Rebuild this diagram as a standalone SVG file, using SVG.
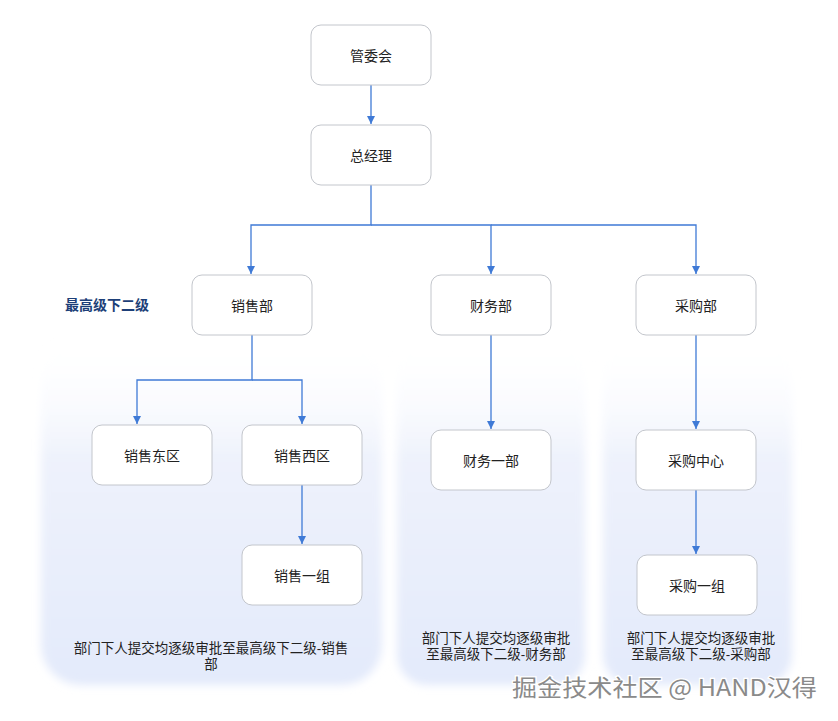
<svg xmlns="http://www.w3.org/2000/svg" width="838" height="721" viewBox="0 0 838 721">
<defs>
<style>
.box{fill:#fff;stroke:#c3c6cc;stroke-width:1}
.t{font-family:"Noto Sans CJK SC","Noto Sans",sans-serif;font-size:14px;fill:#222;text-anchor:middle;dominant-baseline:central}
.note{font-family:"Liberation Sans","Noto Sans CJK SC",sans-serif;font-size:13.5px;fill:#222;text-anchor:middle}
.c{fill:none;stroke:#3f7ad6;stroke-width:1.3}
.panel{fill:url(#pg)}
</style>
<linearGradient id="pg" x1="0" y1="0" x2="0" y2="1">
<stop offset="0" stop-color="#ffffff" stop-opacity="0"/>
<stop offset="0.35" stop-color="#eef2fc"/>
<stop offset="1" stop-color="#e3eafb"/>
</linearGradient>
<filter id="soft" x="-10%" y="-10%" width="120%" height="120%"><feGaussianBlur stdDeviation="4"/></filter>
<marker id="ah" viewBox="0 0 10 10" refX="10" refY="5" markerWidth="8" markerHeight="8" orient="auto" markerUnits="userSpaceOnUse">
<path d="M0,0 L10,5 L0,10 z" fill="#3f7ad6"/>
</marker>
</defs>
<rect width="838" height="721" fill="#ffffff"/>
<g id="panels" filter="url(#soft)">
<rect class="panel" x="41" y="335" width="341" height="350" rx="40"/>
<rect class="panel" x="397" y="335" width="188" height="350" rx="30"/>
<rect class="panel" x="603" y="335" width="189" height="350" rx="30"/>
</g>
<g id="connectors">
<path class="c" d="M371,85 V124" marker-end="url(#ah)"/>
<path class="c" d="M371,185 V225 H251 V274" marker-end="url(#ah)"/>
<path class="c" d="M371,225 H491 V274" marker-end="url(#ah)"/>
<path class="c" d="M491,225 H696 V274" marker-end="url(#ah)"/>
<path class="c" d="M252,335 V380 H137 V424" marker-end="url(#ah)"/>
<path class="c" d="M252,380 H302 V424" marker-end="url(#ah)"/>
<path class="c" d="M302,485 V544" marker-end="url(#ah)"/>
<path class="c" d="M491,335 V429" marker-end="url(#ah)"/>
<path class="c" d="M696,335 V429" marker-end="url(#ah)"/>
<path class="c" d="M696,490 V554" marker-end="url(#ah)"/>
</g>
<g id="n-guanweihui"><rect class="box" x="311" y="25" width="120" height="60" rx="10"/><text class="t" x="371" y="55">管委会</text></g>
<g id="n-zongjingli"><rect class="box" x="311" y="125" width="120" height="60" rx="10"/><text class="t" x="371" y="155">总经理</text></g>
<g id="n-xiaoshoubu"><rect class="box" x="192" y="275" width="120" height="60" rx="10"/><text class="t" x="252" y="305">销售部</text></g>
<g id="n-caiwubu"><rect class="box" x="431" y="275" width="120" height="60" rx="10"/><text class="t" x="491" y="305">财务部</text></g>
<g id="n-caigoubu"><rect class="box" x="636" y="275" width="120" height="60" rx="10"/><text class="t" x="696" y="305">采购部</text></g>
<g id="n-xiaoshoudongqu"><rect class="box" x="92" y="425" width="120" height="60" rx="10"/><text class="t" x="152" y="455">销售东区</text></g>
<g id="n-xiaoshouxiqu"><rect class="box" x="242" y="425" width="120" height="60" rx="10"/><text class="t" x="302" y="455">销售西区</text></g>
<g id="n-xiaoshouyizu"><rect class="box" x="242" y="545" width="120" height="60" rx="10"/><text class="t" x="302" y="575">销售一组</text></g>
<g id="n-caiwuyibu"><rect class="box" x="431" y="430" width="120" height="60" rx="10"/><text class="t" x="491" y="460">财务一部</text></g>
<g id="n-caigouzhongxin"><rect class="box" x="636" y="430" width="120" height="60" rx="10"/><text class="t" x="696" y="460">采购中心</text></g>
<g id="n-caigouyizu"><rect class="box" x="637" y="555" width="120" height="60" rx="10"/><text class="t" x="697" y="585">采购一组</text></g>
<g id="labels">
<text x="65" y="310" font-family="'Noto Sans CJK SC','Noto Sans',sans-serif" font-size="14" font-weight="bold" fill="#1d3f78">最高级下二级</text>
<text class="note" x="211" y="653">部门下人提交均逐级审批至最高级下二级-销售</text>
<text class="note" x="211" y="669">部</text>
<text class="note" x="496" y="643">部门下人提交均逐级审批</text>
<text class="note" x="496" y="659">至最高级下二级-财务部</text>
<text class="note" x="701" y="643">部门下人提交均逐级审批</text>
<text class="note" x="701" y="659">至最高级下二级-采购部</text>
</g>
<g id="watermark">
<text x="512" y="696" font-family="'Noto Sans CJK SC','Noto Sans',sans-serif" font-size="23" fill="#8a8a8a" stroke="#ffffff" stroke-width="2.5" paint-order="stroke" textLength="305" lengthAdjust="spacingAndGlyphs">掘金技术社区 @ HAND汉得</text>
</g>
</svg>
